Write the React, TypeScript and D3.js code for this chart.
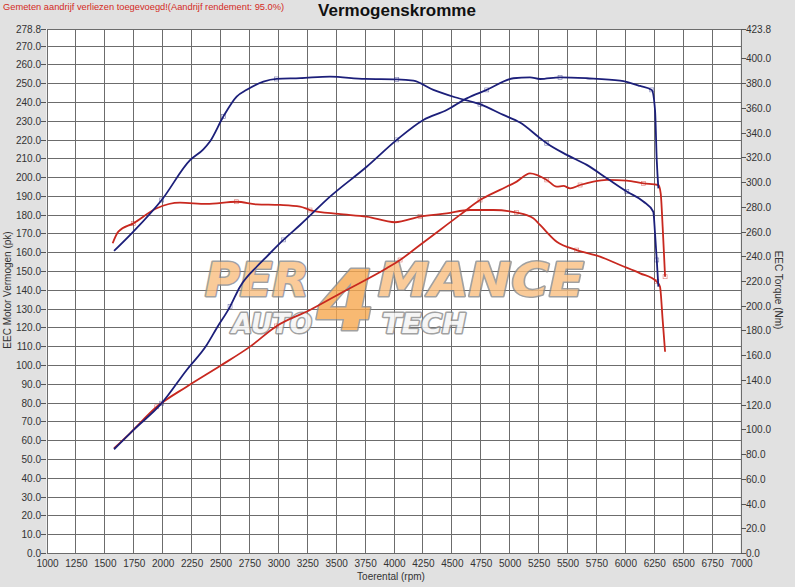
import { useEffect, useRef } from 'react'
import * as d3 from 'd3'

// rpm values and readings taken from the dyno sheet
const blueTorqueRpm = [1584, 1751, 1996, 2241, 2356, 2413, 2529, 2644, 2731, 2875, 2990, 3192, 3451, 3754, 4028, 4172, 4345, 4532, 4748, 4950, 5094, 5267, 5325, 5498, 5671, 5844, 6017, 6160, 6246, 6261, 6276, 6290]
const blueTorqueNm = [244.3, 259.9, 285.5, 317.7, 326.5, 332.8, 353, 369.1, 374.6, 381.2, 383.4, 384, 385.3, 383.4, 383.1, 382, 374.6, 368.6, 363, 354.3, 348.1, 335.5, 331.4, 322, 313.9, 303.1, 292.3, 284.3, 276, 258.6, 237, 215.4]

const bluePowerRpm = [1584, 1751, 1996, 2212, 2385, 2471, 2587, 2673, 2817, 2875, 3048, 3192, 3451, 3768, 4028, 4258, 4460, 4633, 4806, 5036, 5180, 5267, 5440, 5671, 5959, 6132, 6233, 6261, 6276, 6290]
const bluePowerPk = [55.2, 65.4, 79.7, 97.4, 110.7, 119.6, 131.1, 141.7, 152.3, 155.9, 166.6, 174.5, 189.6, 205.5, 219.8, 230.4, 235.7, 241.9, 246.4, 252.6, 253.1, 252.2, 253.1, 252.6, 251.3, 248.5, 246.4, 235.7, 209, 194]

const redTorqueRpm = [1572, 1621, 1751, 1953, 2154, 2385, 2644, 2817, 3019, 3192, 3278, 3523, 3768, 4013, 4229, 4460, 4662, 4863, 5065, 5209, 5267, 5411, 5584, 5786, 5959, 6132, 6276, 6304, 6327, 6348]
const redTorqueNm = [250.5, 259.9, 266.6, 278.8, 283.3, 282.3, 284.1, 282, 281.5, 280.2, 277.4, 274.2, 272.1, 267.5, 272.1, 274.7, 277.4, 277.4, 275.3, 270.7, 265.3, 251.7, 245, 239.7, 232.9, 226.2, 219.5, 215.4, 188.5, 162.8]

const redPowerRpm = [1584, 1722, 1953, 2212, 2500, 2760, 2990, 3278, 3566, 3941, 4057, 4229, 4402, 4575, 4748, 4921, 5065, 5180, 5325, 5411, 5469, 5527, 5613, 5728, 5844, 6017, 6160, 6290, 6310, 6327, 6348]
const redPowerPk = [55.7, 63.7, 77.8, 88.5, 99.5, 109.8, 120.8, 129.3, 139, 151.5, 155.9, 163.9, 171.9, 179.9, 187.8, 193.2, 197.6, 202, 198.5, 194.9, 195.3, 194, 195.8, 197.6, 198.5, 198.1, 196.7, 195.8, 191.4, 173.6, 147]

const leftTicks = [0, 10, 20, 30, 40, 50, 60, 70, 80, 90, 100, 110, 120, 130, 140, 150, 160, 170, 180, 190, 200, 210, 220, 230, 240, 250, 260, 270, 278.8]
const rightTicks = [0, 20, 40, 60, 80, 100, 120, 140, 160, 180, 200, 220, 240, 260, 280, 300, 320, 340, 360, 380, 400, 423.8]
const rpmTicks = d3.range(1000, 7001, 250)

const BLUE = '#1c1f7a'
const RED = '#c8281f'
const FONT = 'Liberation Sans, Arial, sans-serif'

export default function App() {
  const svgRef = useRef<SVGSVGElement>(null)

  useEffect(() => {
    if (!svgRef.current) return
    const root = d3.select(svgRef.current)
    root.selectAll('*').remove()

    const W = 795
    const H = 587
    const x = d3.scaleLinear().domain([1000, 7000]).range([46.5, 740.5])
    const yL = d3.scaleLinear().domain([0, 278.8]).range([553, 29])
    const yR = d3.scaleLinear().domain([0, 423.8]).range([553, 29])

    root.append('rect').attr('width', W).attr('height', H).attr('fill', '#e1e1e1')
    root.append('rect')
      .attr('x', x(1000)).attr('y', yL(278.8))
      .attr('width', x(7000) - x(1000)).attr('height', yL(0) - yL(278.8))
      .attr('fill', '#fff')

    // grid
    const grid = root.append('g').attr('stroke', '#6c6c6c').attr('stroke-width', 1).attr('shape-rendering', 'crispEdges')
    grid.selectAll('line.v').data(rpmTicks).enter().append('line')
      .attr('x1', d => Math.round(x(d)) + 0.5).attr('x2', d => Math.round(x(d)) + 0.5)
      .attr('y1', yL(278.8)).attr('y2', yL(0))
    grid.selectAll('line.h').data(leftTicks).enter().append('line')
      .attr('x1', x(1000)).attr('x2', x(7000))
      .attr('y1', d => Math.round(yL(d)) + 0.5).attr('y2', d => Math.round(yL(d)) + 0.5)

    // left axis
    const la = root.append('g').attr('font-family', FONT).attr('font-size', 10).attr('fill', '#333')
    leftTicks.forEach(t => {
      const yy = Math.round(yL(t)) + 0.5
      la.append('line').attr('x1', 41).attr('x2', 46).attr('y1', yy).attr('y2', yy).attr('stroke', '#555')
      la.append('text').attr('x', 41).attr('y', yy + 3.5).attr('text-anchor', 'end').text(t.toFixed(1))
    })
    // right axis
    const ra = root.append('g').attr('font-family', FONT).attr('font-size', 10).attr('fill', '#333')
    rightTicks.forEach(t => {
      const yy = Math.round(yR(t)) + 0.5
      ra.append('line').attr('x1', 741).attr('x2', 746).attr('y1', yy).attr('y2', yy).attr('stroke', '#555')
      ra.append('text').attr('x', 746).attr('y', yy + 3.5).text(t.toFixed(1))
    })
    // bottom axis
    const ba = root.append('g').attr('font-family', FONT).attr('font-size', 10).attr('fill', '#333')
    rpmTicks.forEach(t => {
      ba.append('text').attr('x', x(t) + 1).attr('y', 567).attr('text-anchor', 'middle').text(t)
    })

    // axis titles
    root.append('text')
      .attr('transform', 'translate(11,290) rotate(-90)')
      .attr('text-anchor', 'middle').attr('font-family', FONT).attr('font-size', 10).attr('fill', '#333')
      .text('EEC Motor Vermogen (pk)')
    root.append('text')
      .attr('transform', 'translate(775,290) rotate(90)')
      .attr('text-anchor', 'middle').attr('font-family', FONT).attr('font-size', 10).attr('fill', '#333')
      .text('EEC Torque (Nm)')
    root.append('text')
      .attr('x', 391).attr('y', 580).attr('text-anchor', 'middle')
      .attr('font-family', FONT).attr('font-size', 10).attr('fill', '#333')
      .text('Toerental (rpm)')

    // header
    root.append('text').attr('x', 3).attr('y', 10)
      .attr('font-family', FONT).attr('font-size', 9.3).attr('fill', '#d42a24')
      .text('Gemeten aandrijf verliezen toegevoegd!(Aandrijf rendement: 95.0%)')
    root.append('text').attr('x', 397).attr('y', 16).attr('text-anchor', 'middle')
      .attr('font-family', FONT).attr('font-size', 17).attr('font-weight', 'bold').attr('fill', '#111')
      .text('Vermogenskromme')

    // watermark logo
    const logo = root.append('g').attr('opacity', 0.8)
      .attr('font-family', 'DejaVu Sans, sans-serif').attr('font-weight', 'bold').attr('font-style', 'italic')
      .attr('stroke', '#8a8a8a').attr('stroke-width', 3).attr('paint-order', 'stroke').attr('stroke-linejoin', 'round')
    logo.append('text').attr('x', 346).attr('y', 330).attr('fill', '#f7a850')
      .attr('font-size', 84).attr('text-anchor', 'middle').text('4')
    logo.append('text').attr('x', 205).attr('y', 296).attr('fill', '#f9bf80')
      .attr('font-size', 46).attr('textLength', 104).attr('lengthAdjust', 'spacingAndGlyphs').text('PER')
    logo.append('text').attr('x', 378).attr('y', 296).attr('fill', '#f9bf80')
      .attr('font-size', 46).attr('textLength', 206).attr('lengthAdjust', 'spacingAndGlyphs').text('MANCE')
    logo.append('text').attr('x', 232).attr('y', 333).attr('fill', '#f4f4f4')
      .attr('font-size', 27).attr('textLength', 80).attr('lengthAdjust', 'spacingAndGlyphs').text('AUTO')
    logo.append('text').attr('x', 382).attr('y', 333).attr('fill', '#f4f4f4')
      .attr('font-size', 27).attr('textLength', 84).attr('lengthAdjust', 'spacingAndGlyphs').text('TECH')

    // curves
    const series = [
      { rpm: redPowerRpm, vals: redPowerPk, y: yL, color: RED },
      { rpm: redTorqueRpm, vals: redTorqueNm, y: yR, color: RED },
      { rpm: bluePowerRpm, vals: bluePowerPk, y: yL, color: BLUE },
      { rpm: blueTorqueRpm, vals: blueTorqueNm, y: yR, color: BLUE }
    ]
    series.forEach(s => {
      const pts = s.rpm.map((r, i) => [r, s.vals[i]] as [number, number])
      const line = d3.line<[number, number]>()
        .x(d => x(d[0])).y(d => s.y(d[1]))
        .curve(d3.curveMonotoneX)
      root.append('path').datum(pts)
        .attr('d', line).attr('fill', 'none')
        .attr('stroke', s.color).attr('stroke-width', 1.8).attr('stroke-linejoin', 'round')
      root.append('g').selectAll('rect')
        .data(pts.filter((_, i) => i % 4 === 2))
        .enter().append('rect')
        .attr('x', d => x(d[0]) - 2).attr('y', d => s.y(d[1]) - 2)
        .attr('width', 4).attr('height', 4)
        .attr('fill', 'none').attr('stroke', s.color).attr('stroke-width', 0.6).attr('opacity', 0.6)
    })
  }, [])

  return (
    <svg ref={svgRef} width={795} height={587}
      style={{ position: 'absolute', left: 0, top: 0, display: 'block' }} />
  )
}
